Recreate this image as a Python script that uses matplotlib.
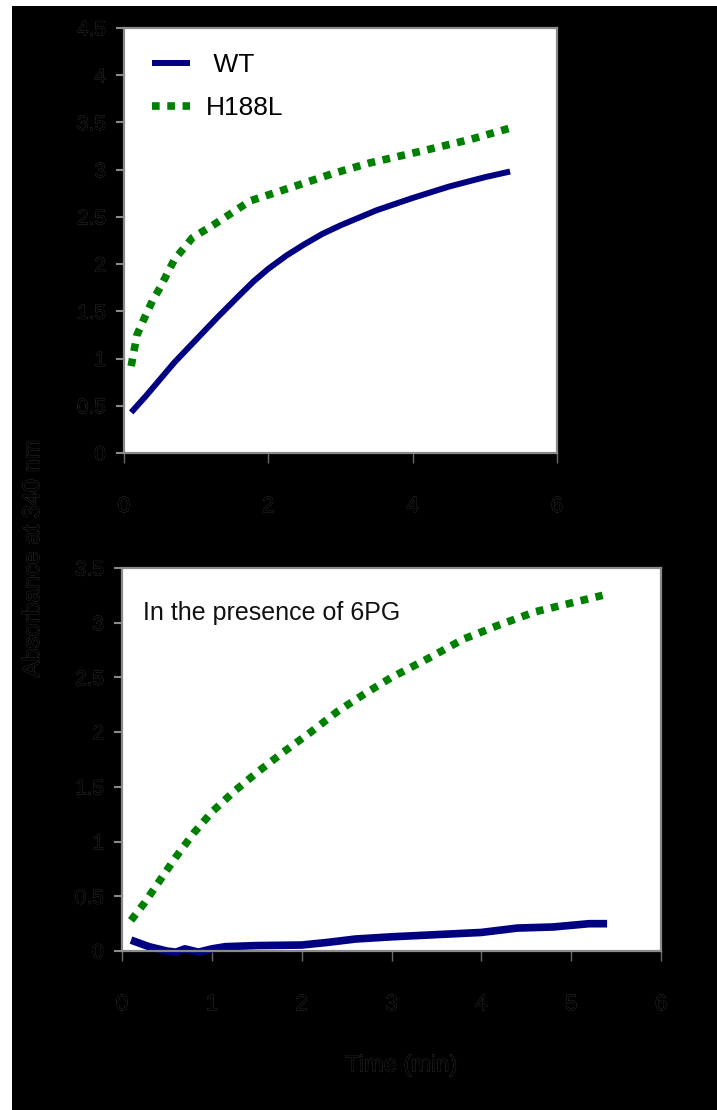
import numpy as np
import matplotlib
matplotlib.use('Agg')
import matplotlib.pyplot as plt
import matplotlib.patheffects as pe
from matplotlib.patches import Rectangle


# top panel, no effector
wt_t = [0.1, 0.3, 0.5, 0.7, 1.0, 1.3, 1.6, 1.8, 2.0, 2.25, 2.5, 2.75, 3.0, 3.5, 4.0, 4.5, 5.0, 5.35]
wt_v = [0.43, 0.60, 0.78, 0.96, 1.20, 1.44, 1.67, 1.82, 1.95, 2.09, 2.21, 2.32, 2.41, 2.57, 2.70, 2.82, 2.92, 2.98]

mut_t = [0.1, 0.18, 0.29, 0.4, 0.5, 0.7, 0.95, 1.25, 1.75, 2.35, 2.9, 3.4, 4.2, 4.8, 5.35]
mut_v = [0.92, 1.25, 1.44, 1.62, 1.75, 2.05, 2.28, 2.42, 2.67, 2.82, 2.96, 3.07, 3.21, 3.32, 3.44]

# bottom panel, with 6PG
wt6_t = [0.1, 0.3, 0.5, 0.6, 0.7, 0.85, 1.0, 1.15, 1.5, 2.0, 2.3, 2.6, 3.0, 3.5, 4.0, 4.4, 4.8, 5.2, 5.4]
wt6_v = [0.10, 0.04, 0.0, -0.01, 0.02, -0.01, 0.02, 0.04, 0.05, 0.055, 0.08, 0.11, 0.13, 0.15, 0.17, 0.21, 0.22, 0.25, 0.25]

mut6_t = [0.1, 0.25, 0.4, 0.6, 0.8, 1.0, 1.25, 1.5, 1.8, 2.1, 2.4, 2.7, 3.0, 3.4, 3.8, 4.2, 4.6, 5.0, 5.35]
mut6_v = [0.28, 0.44, 0.62, 0.86, 1.08, 1.27, 1.46, 1.63, 1.82, 2.00, 2.19, 2.35, 2.50, 2.67, 2.85, 2.98, 3.10, 3.18, 3.25]

top_yticks = [0, 0.5, 1, 1.5, 2, 2.5, 3, 3.5, 4, 4.5]
top_ylabels = ['0', '0.5', '1', '1.5', '2', '2.5', '3', '3.5', '4', '4.5']
bot_yticks = [0, 0.5, 1, 1.5, 2, 2.5, 3, 3.5]
bot_ylabels = ['0', '0.5', '1', '1.5', '2', '2.5', '3', '3.5']
top_xticks = [0, 2, 4, 6]
bot_xticks = [0, 1, 2, 3, 4, 5, 6]


plt.rcParams['font.family'] = ['Liberation Sans', 'DejaVu Sans']

navy = '#000080'
green = '#008000'
# black text on black, only a faint rim shows
ghost = [pe.withStroke(linewidth=0.5, foreground='#3c3c3c')]

fig = plt.figure(figsize=(7.17, 11.10), dpi=100, facecolor='white')
fig.add_artist(Rectangle((12/717, 0), 1 - 12/717, 1 - 6/1110, transform=fig.transFigure,
                         facecolor='black', edgecolor='none', zorder=-10))

ax1 = fig.add_axes([0.1729, 0.5919, 0.6039, 0.3829])
ax2 = fig.add_axes([0.1702, 0.1432, 0.7517, 0.3451])

ax1.plot(wt_t, wt_v, color=navy, lw=4.3, solid_capstyle='butt', solid_joinstyle='round', label=' WT')
ax1.plot(mut_t, mut_v, color=green, lw=5.5, linestyle=(0, (1, 1)), dash_capstyle='butt', label='H188L')

ax2.plot(wt6_t, wt6_v, color=navy, lw=5.5, solid_capstyle='butt', solid_joinstyle='round', clip_on=False)
ax2.plot(mut6_t, mut6_v, color=green, lw=5.5, linestyle=(0, (1, 1)), dash_capstyle='butt', clip_on=False)

for ax, yt, yl, xt, ytop in [(ax1, top_yticks, top_ylabels, top_xticks, 4.5),
                             (ax2, bot_yticks, bot_ylabels, bot_xticks, 3.5)]:
    ax.set_facecolor('white')
    ax.set_xlim(0, 6)
    ax.set_ylim(0, ytop)
    ax.set_yticks(yt)
    ax.set_yticklabels(yl)
    ax.set_xticks(xt)
    ax.set_xticklabels([str(v) for v in xt])
    for s in ax.spines.values():
        s.set_color('#8a8a8a')
        s.set_linewidth(1.6)
    ax.tick_params(axis='y', direction='out', length=6, width=1.5, color='#8a8a8a', pad=7, labelsize=15)
    ax.tick_params(axis='x', direction='out', length=7, width=1.0, color='#6a6a6a', pad=24, labelsize=16)
    for lab in ax.get_xticklabels() + ax.get_yticklabels():
        lab.set_color('black')
        lab.set_path_effects(ghost)

leg = ax1.legend(loc='upper left', bbox_to_anchor=(0.04, 0.965), frameon=False, fontsize=19,
                 handlelength=1.45, handletextpad=0.6, labelspacing=0.7, borderaxespad=0)

ax2.text(0.039, 0.882, 'In the presence of 6PG', transform=ax2.transAxes, fontsize=18,
         ha='left', va='center', color='#111111')

fig.text(0.046, 0.497, 'Absorbance at 340 nm', rotation=90, ha='center', va='center',
         fontsize=17, color='black', path_effects=ghost)
fig.text(0.56, 0.040, 'Time (min)', ha='center', va='center', fontsize=17,
         color='black', path_effects=ghost)

fig.savefig('out.png', dpi=100, facecolor=fig.get_facecolor())
